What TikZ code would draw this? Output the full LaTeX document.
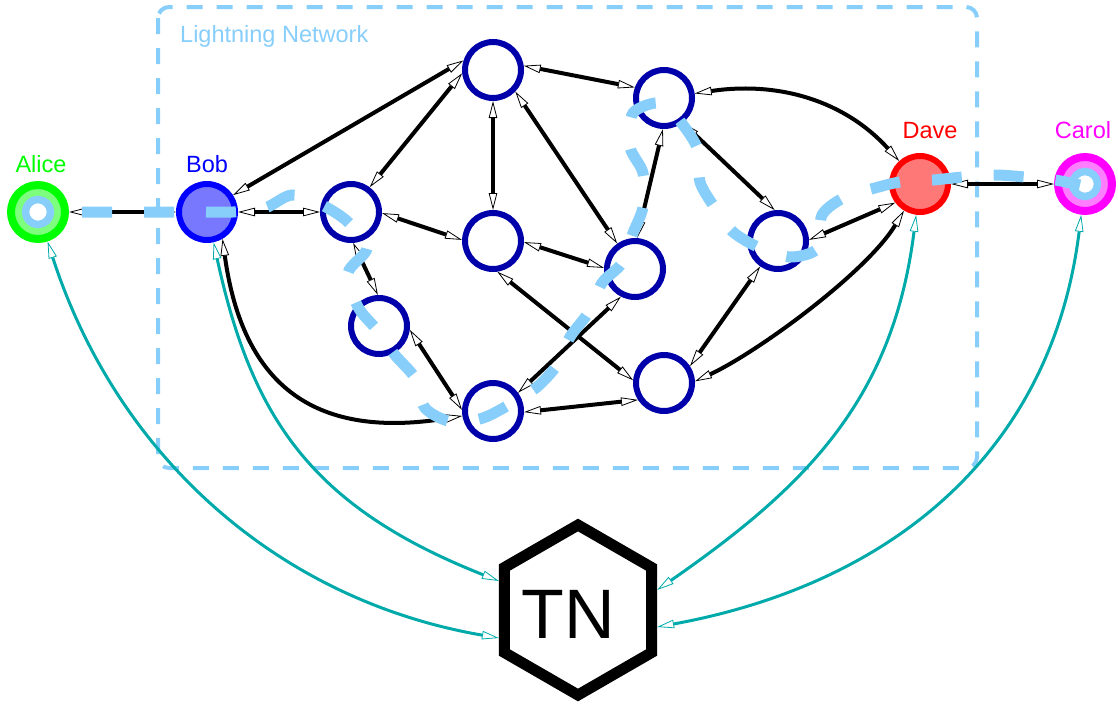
\documentclass[tikz,border=0pt]{standalone}
\usepackage{fontspec}
\setmainfont{Liberation Sans}
\usetikzlibrary{arrows.meta,shapes.geometric}

\definecolor{route}{RGB}{135,206,250}
\definecolor{ringblue}{RGB}{0,0,170}
\definecolor{bobblue}{RGB}{0,0,255}
\definecolor{bobfill}{RGB}{120,120,255}
\definecolor{davered}{RGB}{255,0,0}
\definecolor{davefill}{RGB}{255,120,120}
\definecolor{alicegreen}{RGB}{0,255,0}
\definecolor{alicefill}{RGB}{125,255,125}
\definecolor{carolmag}{RGB}{255,0,255}
\definecolor{carolfill}{RGB}{255,125,255}
\definecolor{tnlink}{RGB}{0,170,170}

\tikzset{
  hollow/.tip={Triangle[length=17pt, width=8.5pt, fill=white, line width=0.8pt]},
  peer/.style={circle, minimum size=56pt, inner sep=0pt, line width=6pt,
    draw=ringblue, fill=white},
  endpoint/.style={circle, minimum size=54pt, inner sep=0pt, line width=8pt,
    path picture={\draw[route, line width=7.5pt, fill=white]
      (path picture bounding box.center) circle[radius=12.5pt];}},
  hexnode/.style={regular polygon, regular polygon sides=6, shape border rotate=30,
    minimum size=170pt, inner sep=0pt, line width=11pt, draw=black},
  edge/.style={line width=4pt, hollow-hollow},
  link/.style={line width=3pt, draw=tnlink, hollow-hollow},
  who/.style={font=\fontsize{23.5}{28}\selectfont, anchor=base, inner sep=0pt},
  routeline/.style={draw=route, line width=11pt,
    dash pattern=on 30pt off 32pt, dash phase=49pt},
  netbox/.style={draw=route, line width=4pt, dash pattern=on 16pt off 14pt,
    rounded corners=11pt},
}

\begin{document}
\begin{tikzpicture}[x=1pt, y=-1pt]
\useasboundingbox (0,0) rectangle (1118,704);

% Lightning Network frame
\draw[netbox] (158,7) rectangle (977,468);
\node[who, anchor=base west, text=route] (lnlabel) at (180,42) {Lightning Network};

% channel nodes
\node[endpoint, draw=alicegreen, fill=alicefill] (Alice) at (38,212) {};
\node[peer, draw=bobblue, fill=bobfill] (Bob) at (207,212) {};
\node[peer] (n1) at (351,212) {};
\node[peer] (n2) at (493,70) {};
\node[peer] (n3) at (664,98) {};
\node[peer] (n4) at (493,241) {};
\node[peer] (n5) at (635,269) {};
\node[peer] (n6) at (379,326) {};
\node[peer] (n7) at (493,411) {};
\node[peer] (n8) at (664,383) {};
\node[peer] (n9) at (778,241) {};
\node[peer, draw=davered, fill=davefill] (Dave) at (920,184) {};
\node[endpoint, draw=carolmag, fill=carolfill] (Carol) at (1085,184) {};

% names
\node[who, text=alicegreen] (alicename) at (41,172.5) {Alice};
\node[who, text=bobblue] (bobname) at (207,172.5) {Bob};
\node[who, text=davered] (davename) at (930,138) {Dave};
\node[who, text=carolmag] (carolname) at (1083,138) {Carol};

% trusted node
\node[hexnode] (TN) at (578,610) {};
\node[font=\fontsize{70}{80}\selectfont, anchor=base, inner sep=0pt] (tnname) at (568,638) {TN};

% payment channels
\draw[edge] (Alice.0) -- (Bob.180);
\draw[edge] (Bob.0) -- (n1.180);
\draw[edge] (Bob.33) -- (n2.162);
\draw[edge] (n1.53) -- (n2.186);
\draw[edge] (n2.-90) -- (n4.90);
\draw[edge] (n2.-44) -- (n5.125);
\draw[edge] (n2.8) -- (n3.160);
\draw[edge] (n1.-2) -- (n4.178);
\draw[edge] (n4.-2) -- (n5.178);
\draw[edge] (n3.-92) -- (n5.86);
\draw[edge] (n3.-53) -- (n9.96);
\draw[edge] (n1.-86) -- (n6.92);
\draw[edge] (n6.-7) -- (n7.178);
\draw[edge] (n5.-117) -- (n7.36);
\draw[edge] (n4.-82) -- (n8.175);
\draw[edge] (n7.-2) -- (n8.213);
\draw[edge] (n8.33) -- (n9.-125);
\draw[edge] (n9.2) -- (Dave.217);
\draw[edge] (Dave.0) -- (Carol.180);
\draw[edge] (Bob.-60) .. controls (243,389) and (318,439) .. (n7);
\draw[edge] (n3) .. controls (779,81) and (845,101) .. (Dave);
\draw[edge] (n8.3) .. controls (758,352) and (867,272) .. (Dave);

% links to the trusted node
\draw[link] (Alice) .. controls (117,456) and (278,600) .. ([yshift=-28pt]TN.west);
\draw[link] (Bob) .. controls (252,419) and (312,507) .. ([yshift=29pt]TN.west);
\draw[link] (Dave) .. controls (893,399) and (807,486) .. ([yshift=20pt]TN.east);
\draw[link] (Carol) .. controls (1052,452) and (892,584) .. ([yshift=-17pt]TN.east);

% payment route
\draw[routeline] plot[smooth, tension=0.5] coordinates {
  (Alice.east) (82,212) (112,212) (142,212) (173,212) (203,212) (233,212)
  (265,208) (292,195) (322,205) (348,222) (367,248) (348,273) (358,307)
  (377,330) (395,355) (415,378) (425,408) (452,422) (483,418) (512,403)
  (537,387) (557,365) (570,337) (588,313) (602,283) (622,263) (633,233)
  (643,207) (643,173) (630,147) (633,113) (662,103) (683,125) (698,150)
  (700,182) (715,208) (733,232) (760,248) (791,257) (818,248) (822,215)
  (845,197) (875,188) (900,182) (933,180) (963,177) (995,175) (1025,177)
  (1055,180) (1080,185)};
\end{tikzpicture}
\end{document}
